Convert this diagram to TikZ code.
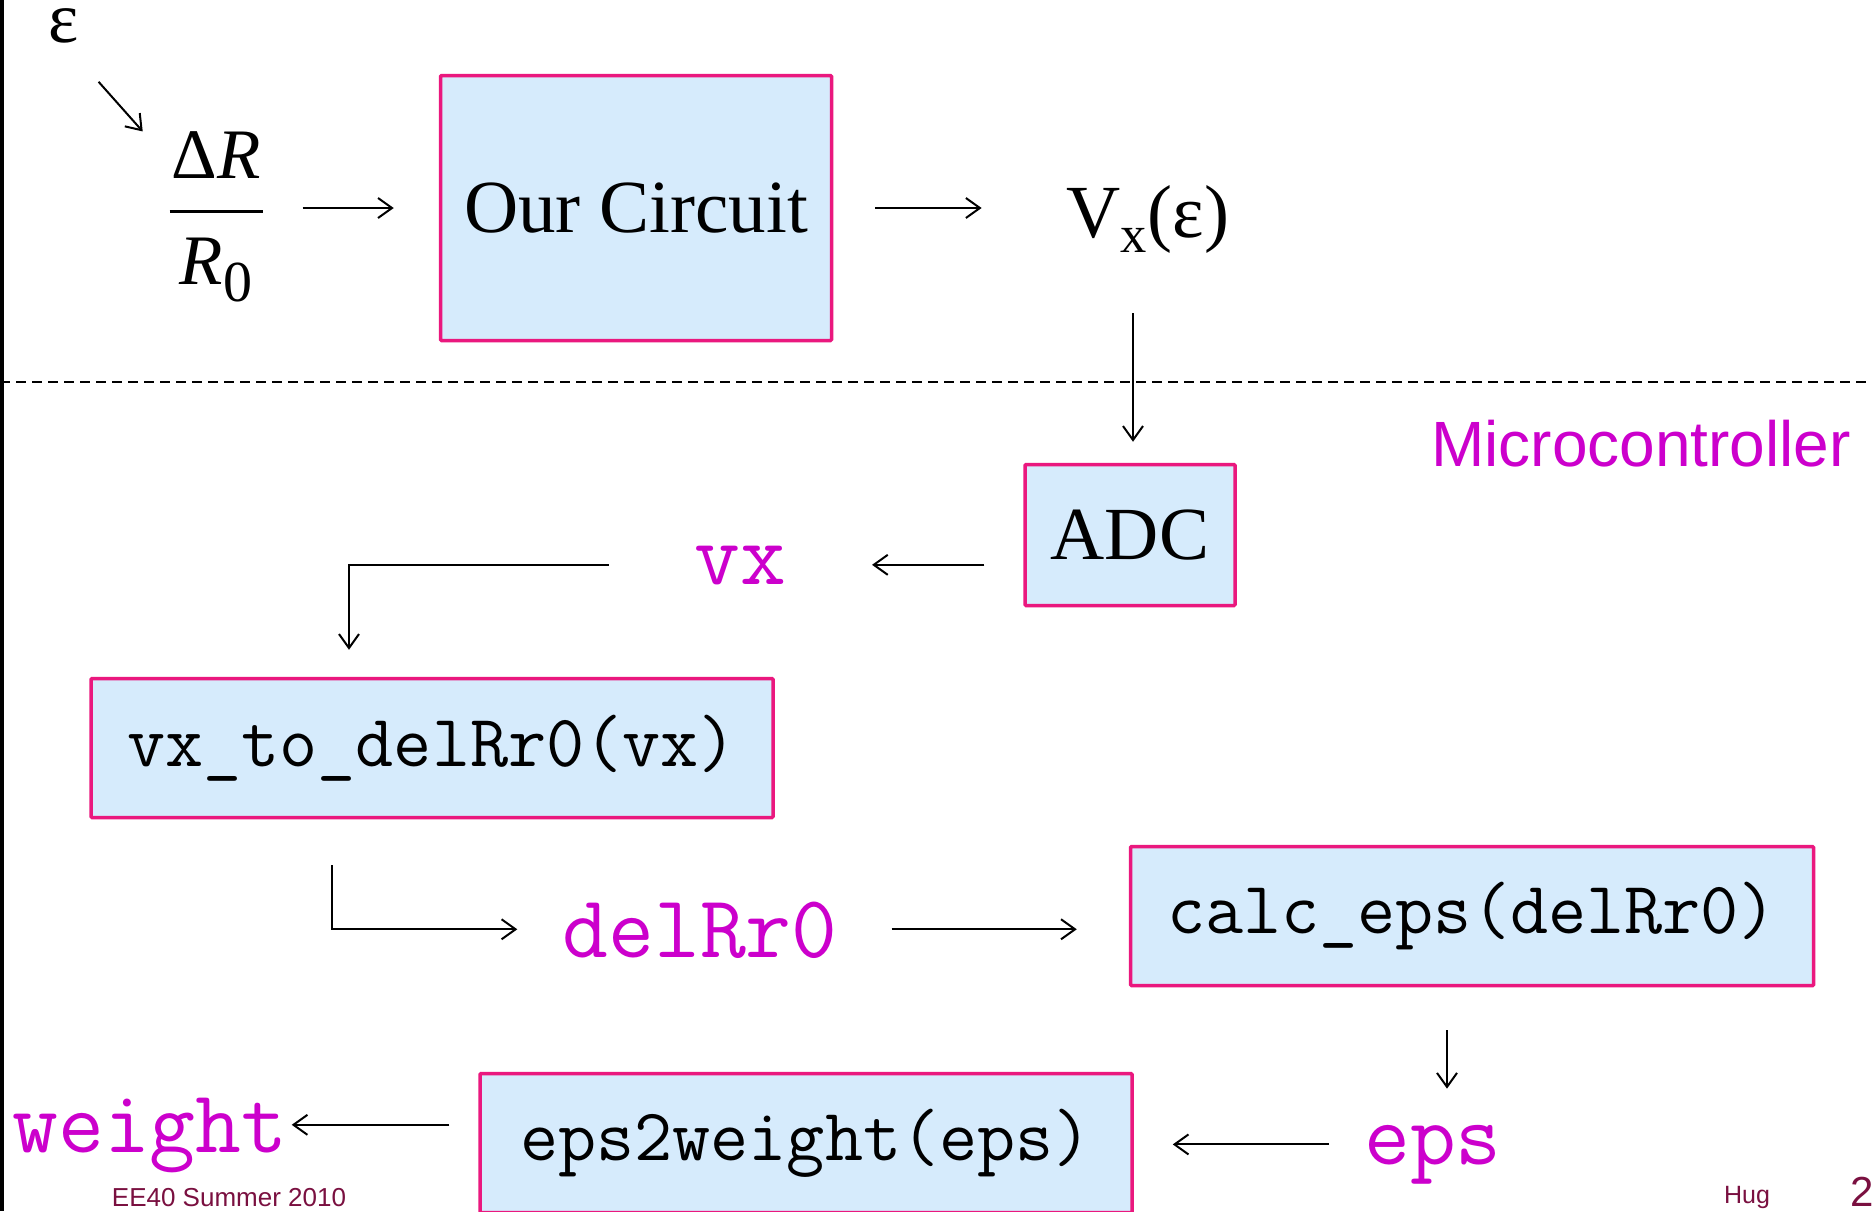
\documentclass[tikz,border=0pt]{standalone}
\usepackage{fontspec}
\setmainfont{Liberation Serif}
\newfontfamily\arialfont{Liberation Sans}
\usetikzlibrary{arrows.meta,positioning,calc}

\definecolor{boxedge}{RGB}{234,24,126}
\definecolor{boxfill}{RGB}{214,235,252}
\definecolor{varpink}{RGB}{204,0,204}
\definecolor{footred}{RGB}{122,16,64}

\begin{document}
\begin{tikzpicture}[
  x=1pt, y=-1pt,
  block/.style={draw=boxedge, line width=3.5pt, fill=boxfill, rounded corners=1pt, inner sep=0pt},
  serifbig/.style={inner sep=0pt, font=\fontsize{75}{80}\selectfont},
  code/.style={font=\fontsize{74}{80}\selectfont\ttfamily},
  var/.style={text=varpink, inner sep=0pt, anchor=base, text depth=0pt, font=\fontsize{89}{95}\selectfont\ttfamily},
  foot/.style={text=footred, inner sep=0pt, anchor=base},
  arr/.style={-{Straight Barb[length=14pt,width=20pt]}, line width=2pt}
]
\clip (0,0) rectangle (1872,1211);
\fill[white] (0,0) rectangle (1872,1211);
\fill[black] (0,0) rectangle (4,1211);

% analog side
\node[serifbig, anchor=base, font=\fontsize{72}{76}\selectfont] (epsl) at (64,42) {ε};
\node[inner sep=0pt, font=\fontsize{71}{76}\selectfont] (frac) at (216,217)
  {\vbox{\hbox to 93pt{\hfil Δ\textit{R}\hfil}\kern31pt\hrule height 3.5pt\kern25pt
   \hbox to 93pt{\hfil\textit{R}\raisebox{-17pt}{\fontsize{58}{60}\selectfont 0}\hfil}}};
\node[block, serifbig, minimum width=391pt, minimum height=265pt] (circ) at (636,208) {Our Circuit};
\node[serifbig, anchor=base] (vxe) at (1148,237) {V\textsubscript{x}(ε)};

\draw[line width=2pt, dash pattern=on 10pt off 6pt] (0,382) -- (1872,382);
\node[anchor=base, inner sep=0pt, text=varpink, font=\arialfont\fontsize{64}{70}\selectfont] (micro) at (1641,466) {Microcontroller};

% microcontroller side
\node[block, serifbig, minimum width=210pt, minimum height=141pt] (adc) at (1130,535) {ADC};
\node[var] (vxt) at (740,584) {vx};
\node[block, code, minimum width=682pt, minimum height=139pt] (vtd) at (432,748) {vx\_to\_delRr0(vx)};
\node[var] (drr) at (700,957) {delRr0};
\node[block, code, minimum width=683pt, minimum height=139pt] (calc) at (1472,916) {calc\_eps(delRr0)};
\node[var] (epsv) at (1433,1164) {eps};
\node[block, code, minimum width=652pt, minimum height=139pt] (e2w) at (806,1143) {eps2weight(eps)};
\node[var] (wgt) at (150,1152) {weight};

\coordinate (kad) at (1133,300);
\coordinate (kvx) at (349,566);
\coordinate (kdl) at (332,930);
\coordinate (kep) at (1447,1060);

\draw[arr, shorten <=52pt, shorten >=40pt] (epsl.south) -- (frac.130);
\draw[arr, shorten <=40pt, shorten >=45pt] (circ.west -| frac.east) -- (circ.west);
\draw[arr, shorten <=42pt, shorten >=85pt] (circ.east) -- (circ.east -| vxe.west);
\draw[arr, shorten <=60pt, shorten >=21pt] (vxe.south -| kad) -- (adc.north -| kad);
\draw[arr, shorten <=39pt, shorten >=86pt] (adc.west |- vxt.east) -- (vxt.east);
\draw[arr, shorten <=85pt, shorten >=27pt] (vxt.west) -| (kvx |- vtd.north);
\draw[arr, shorten <=46pt, shorten >=45pt] (vtd.south -| kdl) |- (drr.west);
\draw[arr, shorten <=54pt, shorten >=52pt] (drr.east) -- (drr.east -| calc.west);
\draw[arr, shorten <=43pt, shorten >=36pt] (calc.south -| kep) -- (epsv.north -| kep);
\draw[arr, shorten <=35pt, shorten >=39pt] (epsv.west) -- (epsv.west -| e2w.east);
\draw[arr, shorten <=29pt, shorten >=4pt] (e2w.west |- wgt.east) -- (wgt.east);

% slide footer
\node[foot, font=\arialfont\fontsize{26}{30}\selectfont] (course) at (229,1206) {EE40 Summer 2010};
\node[foot, font=\arialfont\fontsize{25}{30}\selectfont] (who) at (1747,1203) {Hug};
\node[foot, font=\arialfont\fontsize{42}{46}\selectfont] (page) at (1862,1206) {2};
\end{tikzpicture}
\end{document}
